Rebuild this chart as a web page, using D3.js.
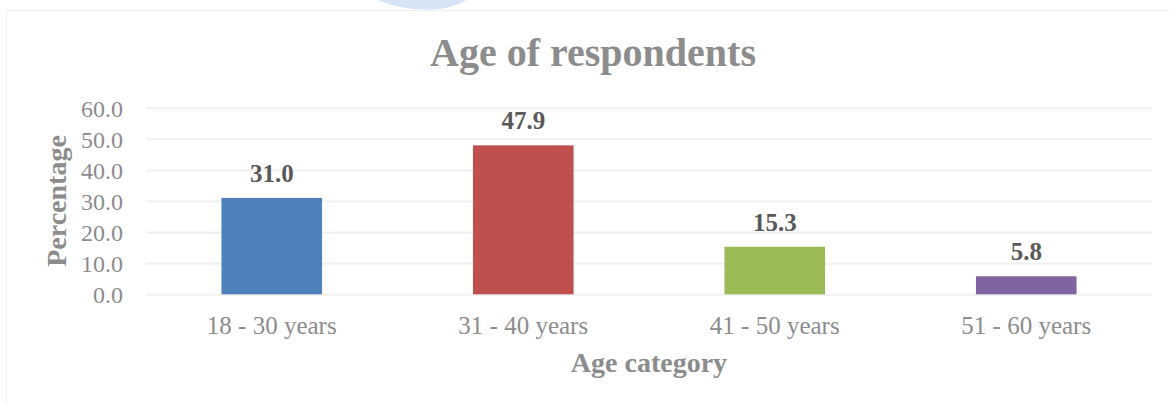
<!DOCTYPE html>
<html>
<head>
<meta charset="utf-8">
<script src="https://cdnjs.cloudflare.com/ajax/libs/d3/7.8.5/d3.min.js"></script>
<style>
  body { margin: 0; background: #fff; }
  svg { display: block; }
  text { font-family: "Liberation Serif", "DejaVu Serif", serif; }
</style>
</head>
<body>
<svg width="1169" height="405"></svg>
<script>
var categories = ['18 - 30 years', '31 - 40 years', '41 - 50 years', '51 - 60 years'];
var values = [31.0, 47.9, 15.3, 5.8];
var colors = ['#4f81bd', '#c0504d', '#9bbb59', '#8064a2'];
var yTicks = [0, 10, 20, 30, 40, 50, 60];

var svgctrl = d3.select('svg');

// faint watermark swoosh peeking in at the top
svgctrl.append('path')
    .attr('d', 'M378,0 Q405,12 440,9 Q458,6 466,0 Z')
    .attr('fill', '#d6e4f5');

// chart area border
svgctrl.append('rect')
    .attr('x', 6.5).attr('y', 10.5).attr('width', 1200).attr('height', 420)
    .attr('fill', 'none').attr('stroke', '#efefef').attr('stroke-width', 1);

var plotLeft = 146, plotRight = 1152, plotTop = 107.7, plotBottom = 294.3;

var x = d3.scaleBand().domain(categories).range([plotLeft, plotRight]).padding(0);
var y = d3.scaleLinear().domain([0, 60]).range([plotBottom, plotTop]);

// y axis with gridlines
var yAxis = svgctrl.append('g')
    .attr('transform', 'translate(' + plotLeft + ',0)')
    .call(d3.axisLeft(y).tickValues(yTicks).tickFormat(d3.format('.1f'))
        .tickSize(-(plotRight - plotLeft)).tickPadding(23));
yAxis.select('.domain').remove();
yAxis.selectAll('line').attr('stroke', '#f0f0f0').attr('stroke-width', 2);
yAxis.selectAll('text')
    .attr('fill', '#8c8c8c').attr('font-size', 24).attr('dy', '0.36em')
    .style('font-family', '"Liberation Serif", serif');

// bars
var barW = x.bandwidth() * 0.4;
svgctrl.selectAll('.bar').data(values).enter().append('rect')
    .attr('class', 'bar')
    .attr('x', function (d, i) { return x(categories[i]) + (x.bandwidth() - barW) / 2; })
    .attr('y', function (d) { return y(d); })
    .attr('width', barW)
    .attr('height', function (d) { return plotBottom - y(d); })
    .attr('fill', function (d, i) { return colors[i]; });

// data labels
svgctrl.selectAll('.lbl').data(values).enter().append('text')
    .attr('class', 'lbl')
    .attr('x', function (d, i) { return x(categories[i]) + x.bandwidth() / 2; })
    .attr('y', function (d) { return y(d) - 16; })
    .attr('text-anchor', 'middle')
    .attr('font-size', 25).attr('font-weight', 'bold').attr('fill', '#595959')
    .text(function (d) { return d3.format('.1f')(d); });

// x axis
var xAxis = svgctrl.append('g')
    .attr('transform', 'translate(0,' + plotBottom + ')')
    .call(d3.axisBottom(x).tickSize(0).tickPadding(22));
xAxis.select('.domain').remove();
xAxis.selectAll('text')
    .attr('fill', '#8c8c8c').attr('font-size', 25).attr('dy', '0.71em')
    .style('font-family', '"Liberation Serif", serif');

// title
svgctrl.append('text')
    .attr('x', 593).attr('y', 66)
    .attr('text-anchor', 'middle')
    .attr('font-size', 40).attr('font-weight', 'bold').attr('fill', '#8c8c8c')
    .text('Age of respondents');

// axis titles
svgctrl.append('text')
    .attr('x', 649).attr('y', 372)
    .attr('text-anchor', 'middle')
    .attr('font-size', 28).attr('font-weight', 'bold').attr('fill', '#8c8c8c')
    .text('Age category');

svgctrl.append('text')
    .attr('transform', 'translate(66,201) rotate(-90)')
    .attr('text-anchor', 'middle')
    .attr('font-size', 28).attr('font-weight', 'bold').attr('fill', '#8c8c8c')
    .text('Percentage');
</script>
</body>
</html>
